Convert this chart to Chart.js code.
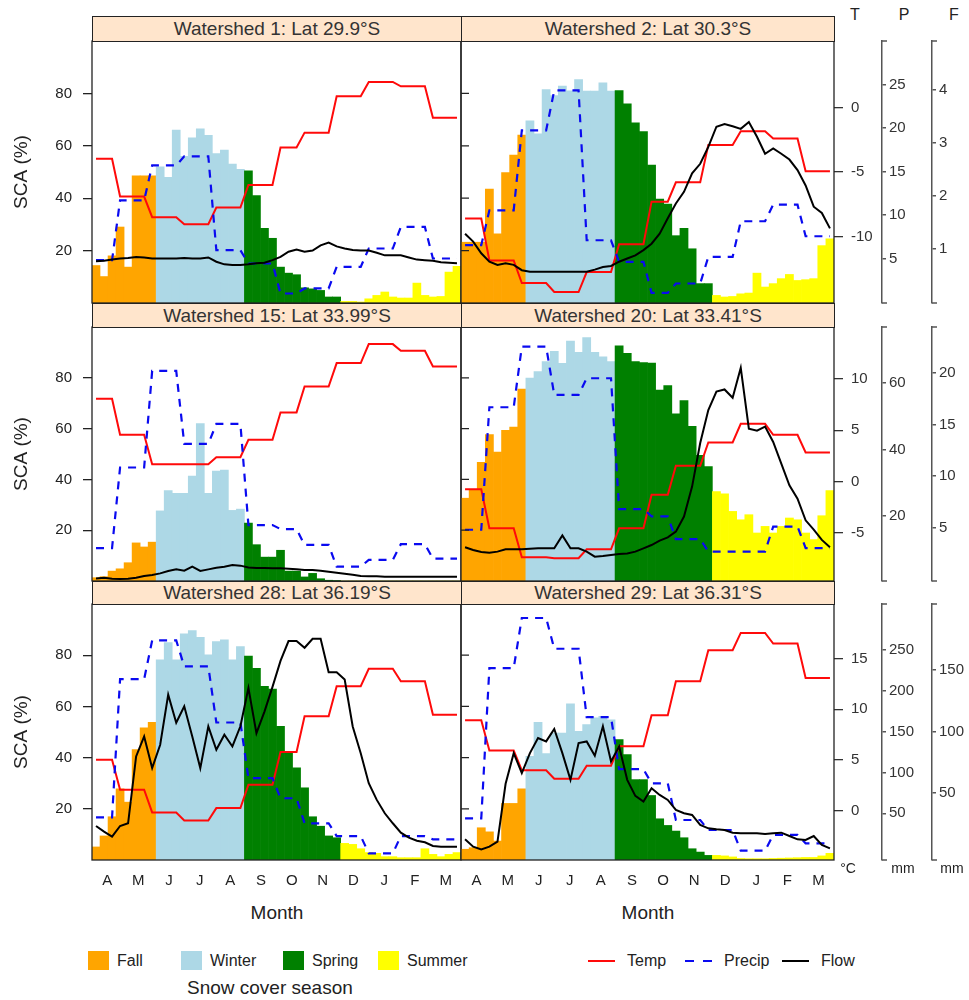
<!DOCTYPE html>
<html>
<head>
<meta charset="utf-8">
<title>Snow cover, temperature, precipitation and flow by watershed</title>
<script src="https://cdn.jsdelivr.net/npm/chart.js@4.4.1/dist/chart.umd.min.js"></script>
<style>
  body { margin: 0; background: #fff; }
  #page { position: relative; width: 969px; height: 1000px; overflow: hidden;
          font-family: "Liberation Sans", Arial, sans-serif; color: #222; }
  #page canvas { position: absolute; }
  .strip { position: absolute; box-sizing: border-box; background: #ffe5cc;
           border: 1px solid #222; font-size: 19px; text-align: center; color: #333; }
  .txt { position: absolute; white-space: nowrap; transform: translateY(-50%); }
  .mid { transform: translate(-50%, -50%); }
  .box { position: absolute; }
</style>
</head>
<body>
<div id="page"></div>
<script>
// month initials along the water year (April - March)
const monthLabels = ['A', 'M', 'J', 'J', 'A', 'S', 'O', 'N', 'D', 'J', 'F', 'M'];
// month (0 = April) of each of the 46 8-day composites
const compMonth = [0,0,0, 1,1,1,1, 2,2,2,2, 3,3,3,3, 4,4,4,4, 5,5,5,5, 6,6,6,
                   7,7,7,7, 8,8,8,8, 9,9,9,9, 10,10,10,10, 11,11,11,11];
// snow cover seasons and how many composites fall in each
const seasonNames = ['Fall', 'Winter', 'Spring', 'Summer'];
const seasonComposites = [8, 11, 12, 15];
const seasonColors = ['#ffa500', '#add8e6', '#008000', '#ffff00'];

const scaTicks = [20, 40, 60, 80];
// right hand axes (T, P, F), one set per row of panels
const tempRange = [[-15.15, 5.15], [-9.7, 15.07], [-4.9, 20.4]];
const precipRange = [[-0.1, 30], [0.5, 76.8], [-7.1, 305.9]];
const flowRange = [[-0.03, 4.92], [-0.19, 24.46], [-4, 203]];
const tempTicks = [[-10, -5, 0], [-5, 0, 5, 10], [0, 5, 10, 15]];
const precipTicks = [[5, 10, 15, 20, 25], [20, 40, 60], [50, 100, 150, 200, 250]];
const flowTicks = [[1, 2, 3, 4], [5, 10, 15, 20], [50, 100, 150]];

// snow covered area (%) per composite
const sca1 = [14.3,10.1,18,29,13.7,48.5,48.5,48.5, 52,48,66,56,63,66.5,64,57,58.4,53,51,
              50.4,41,28.5,24.7,13.7,11.4,10.8,5.8,5.4,4.8,2.3,2.3,
              0.6,0.6,0.4,1.6,2.9,4.2,2.3,1.9,1.9,7.6,2.9,2.3,2.5,11.8,14];
const sca2 = [23.2,23.2,23.2,43.5,26.4,49.8,56.5,64.1, 69.5,64.6,81.5,79.2,82.8,81,85.3,80.9,80.9,84,80.9,
              81.1,76,68.8,65.4,52.6,39.7,37.8,25.7,28.5,20.7,7.4,7.4,
              2.9,2.3,2.5,3.5,3.8,11.4,6.1,7.4,9.3,10.9,8.6,8.9,9.3,21.9,24.5];
const sca15 = [1.3,1.7,3.9,4.8,7.2,15,13.4,15.3, 27.6,35.6,34.5,34.5,41.3,62,34.5,43.3,43.7,27.8,28.3,
               22.8,14.3,9.4,9.4,12.1,3.9,3.9,1.6,3.0,0.9,0.3,0.2,
               0,0,0,0,0,0,0,0,0,0,0,0,0,0,0];
const sca20 = [32.6,35.9,46.7,57.6,50.8,59.3,60.6,75.6, 79.9,82.4,86.4,90.4,85.7,94.5,90,95.8,90,88.3,86.4,
               92.6,89.6,86.4,86,85.8,75.2,76.9,65.8,71,60.9,49.5,45,
               35.2,34.3,27.4,24.1,26.1,18.9,21.5,18.9,21.5,24.8,24.1,18.9,16.3,25.7,35.6];
const sca28 = [5.1,9.4,16.9,27.8,22.6,43.1,51.6,53.8, 78.2,84.9,78.2,88.3,89.6,87,80.1,85.3,86,78.2,83.4,
               79.7,74.9,67.8,66.8,52.2,42.1,36,28.2,16.9,13.2,9.4,8.7,
               6.5,6.1,4.4,2.9,2.6,1.3,1.3,0.9,0.9,0.9,4.4,2.2,1.3,2.2,2.9];
const sca29 = [4.2,4.8,12.6,11,7.4,22.1,22.1,27.8, 40.5,53.8,41.6,49.6,49.6,61,50.3,52.9,55.5,56.1,54.8,
               47,41.2,31.4,31.4,25.2,16.1,13.5,11.3,8.7,4.4,3.1,1.8,
               1.8,1.6,1.2,0.6,0.5,0.5,0.5,0.6,0.7,0.8,0.9,1.0,1.0,1.6,2.6];

// monthly mean temperature (°C), April - March
const temp1 = [-3.97,-6.9,-8.5,-9.05,-7.75,-6.0,-3.1,-1.95,0.87,1.98,1.64,-0.79];
const temp2 = [-8.6,-11.85,-13.6,-14.3,-12.75,-10.6,-7.3,-5.8,-2.9,-1.85,-2.4,-4.95];
const temp15 = [8.07,4.56,1.69,1.69,2.38,4.07,6.74,9.27,11.55,13.4,12.76,11.23];
const temp20 = [-0.75,-4.56,-7.39,-7.48,-6.61,-4.56,-1.3,1.53,3.81,5.63,4.56,2.83];
const temp28 = [5.01,2.04,-0.2,-0.99,0.23,2.54,5.77,9.3,12.27,14.0,12.76,9.46];
const temp29 = [8.9,5.93,3.96,3.13,4.42,6.33,9.4,12.76,15.83,17.54,16.49,13.09];

// monthly precipitation (mm), April - March
const precip1 = [4.82,11.7,15.7,16.75,5.97,4.44,0.99,1.57,4.05,6.16,8.64,5.01];
const precip2 = [6.54,10.55,19.73,24.32,7.11,4.63,1.07,2.14,5.2,9.29,11.2,7.57];
const precip15 = [10.4,34.6,63.6,41.7,47.7,17.3,16.1,11.35,4.8,6.85,11.55,7.2];
const precip20 = [15.9,52.7,70.9,56.4,61.4,22.1,19.9,13.1,9.35,9.35,16.85,10.4];
const precip28 = [45.1,214,261.4,229.6,161,92.9,68.4,37.8,22.2,1.0,22.2,18.2];
const precip29 = [43.9,227.6,288.8,251.2,167.6,103.9,86.7,41.8,29.6,4.3,23.5,13.3];

// streamflow per composite
const flow1 = [0.76,0.77,0.79,0.81,0.82,0.84,0.83,0.81,0.81,0.81, 0.81,0.82,0.81,0.81,0.83,0.75,0.70,0.69,0.69,0.70,
               0.72,0.73,0.78,0.84,0.94,0.98,0.94,0.96,1.06,1.11, 1.04,1.00,0.97,0.96,0.96,0.92,0.87,0.87,0.87,0.83,
               0.79,0.78,0.77,0.74,0.73,0.72];
const flow2 = [1.28,1.13,0.91,0.75,0.69,0.72,0.69,0.59,0.56,0.56, 0.56,0.56,0.56,0.56,0.56,0.56,0.60,0.65,0.67,0.75,
               0.81,0.87,0.97,1.09,1.28,1.57,1.85,2.07,2.42,2.60, 2.92,3.30,3.35,3.31,3.26,3.39,3.11,2.79,2.89,2.79,
               2.68,2.48,2.19,1.79,1.67,1.38];
const flow15 = [0.06,0.13,0.03,0.00,0.03,0.13,0.29,0.39,0.55,0.78, 0.94,0.81,1.20,0.78,0.94,1.10,1.20,1.36,1.30,1.13,
                1.07,1.07,1.04,1.04,1.00,0.94,0.87,0.87,0.81,0.71, 0.62,0.52,0.42,0.29,0.26,0.26,0.23,0.23,0.23,0.23,
                0.23,0.23,0.23,0.23,0.23,0.23];
const flow20 = [3.08,2.82,2.62,2.56,2.66,2.88,2.88,2.88,2.95,2.98, 2.98,2.98,4.24,2.98,2.98,2.66,2.17,2.24,2.33,2.43,
                2.49,2.66,2.98,3.30,3.73,4.05,4.60,6.06,8.97,13.2, 16.4,18.2,18.4,17.6,20.5,14.6,14.4,14.8,13.3,11.2,
                9.1,7.8,5.7,4.8,3.8,3.08];
const flow28 = [23.5,18.9,14.9,23.5,25.7,79.7,95.9,70.3,89.2,129.7, 107,120.3,95.9,70.3,104.1,85.1,97.3,87.8,104.1,135,
                98.6,116,136,157,173,173,167.6,174.9,174.9,147.8, 147.8,141.9,104,82.4,58.1,44.6,33.8,25.7,18.1,14.1,
                11.6,10.3,7.3,6.8,6.8,6.8];
const flow29 = [12.7,6.8,4.6,6.8,10.8,57.6,82.4,66.2,82.4,94.6, 91.9,101.9,82.4,60.8,90.5,91.9,80.3,104.1,75.7,87.8,
                60.8,47.8,43.2,54.1,48.6,44.6,36.5,33.8,32.4,24.3, 21.6,20.8,20.3,18.1,17.6,17.6,17.6,17.0,17.6,18.1,
                15.4,12.7,12.2,15.4,8.1,5.4];

const panels = [
  { title: 'Watershed 1: Lat 29.9°S', sca: sca1, temp: temp1, precip: precip1, flow: flow1 },
  { title: 'Watershed 2: Lat 30.3°S', sca: sca2, temp: temp2, precip: precip2, flow: flow2 },
  { title: 'Watershed 15: Lat 33.99°S', sca: sca15, temp: temp15, precip: precip15, flow: flow15 },
  { title: 'Watershed 20: Lat 33.41°S', sca: sca20, temp: temp20, precip: precip20, flow: flow20 },
  { title: 'Watershed 28: Lat 36.19°S', sca: sca28, temp: temp28, precip: precip28, flow: flow28 },
  { title: 'Watershed 29: Lat 36.31°S', sca: sca29, temp: temp29, precip: precip29, flow: flow29 }
];

const compSeason = [];
seasonComposites.forEach((n, s) => { for (let k = 0; k < n; k++) compSeason.push(s); });
const nComp = compMonth.length;

Chart.defaults.font.family = '"Liberation Sans", Arial, sans-serif';
Chart.defaults.color = '#222';

const page = document.getElementById('page');

const stripTop = [16, 303, 581];
const plotTop = [41, 327, 604];
const plotBottom = [303, 581, 860];

function addText(str, x, y, size, centered) {
  const d = document.createElement('div');
  d.className = centered ? 'txt mid' : 'txt';
  d.style.left = x + 'px';
  d.style.top = y + 'px';
  d.style.fontSize = size + 'px';
  d.textContent = str;
  page.appendChild(d);
  return d;
}

// fixed box sizes for the axes; hidden axes take no room
function fixWidth(w) {
  return s => { s.width = s.options.display ? w : 0; s.paddingTop = 0; s.paddingBottom = 0; };
}
function fixHeight(h) {
  return s => { s.height = s.options.display ? h : 0; s.paddingLeft = 0; s.paddingRight = 0; };
}

// panel border, inner SCA ticks on the right column, bracket ends on P and F axes
const panelFrame = {
  id: 'panelFrame',
  afterDatasetsDraw(chart, args, opts) {
    const { ctx, chartArea: a } = chart;
    ctx.save();
    ctx.strokeStyle = '#222';
    ctx.lineWidth = 1.3;
    ctx.strokeRect(a.left, a.top, a.right - a.left, a.bottom - a.top);
    if (opts.innerTicks) {
      const ys = chart.scales.y;
      ctx.beginPath();
      scaTicks.forEach(v => {
        const py = ys.getPixelForValue(v);
        ctx.moveTo(a.left, py);
        ctx.lineTo(a.left + 8, py);
      });
      ctx.stroke();
    }
    ['P', 'F'].forEach(id => {
      const s = chart.scales[id];
      if (!s || !s.options.display) return;
      ctx.strokeStyle = '#555';
      ctx.lineWidth = 1.5;
      ctx.beginPath();
      ctx.moveTo(s.left, a.top); ctx.lineTo(s.left + 5, a.top);
      ctx.moveTo(s.left, a.bottom); ctx.lineTo(s.left + 5, a.bottom);
      ctx.stroke();
    });
    ctx.restore();
  }
};

function sideAxis(show, weight, range, ticks, width, opts) {
  return {
    type: 'linear', position: 'right', weight: weight, display: show, bounds: 'data',
    min: range[0], max: range[1],
    grid: { drawOnChartArea: false, drawTicks: true, tickLength: opts.tickLength, color: opts.color, lineWidth: opts.lineWidth },
    border: opts.border,
    ticks: { padding: opts.padding, font: { size: 15 }, color: '#333' },
    afterBuildTicks: s => { s.ticks = ticks.map(v => ({ value: v })); },
    afterFit: fixWidth(width)
  };
}

panels.forEach((p, i) => {
  const row = Math.floor(i / 2);
  const right = i % 2 === 1;
  const last = row === 2;
  const left = right ? 460 : 0;
  const width = right ? 509 : 462;
  const top = plotTop[row] - 2;
  const height = plotBottom[row] - plotTop[row] + (last ? 42 : 4);

  const cv = document.createElement('canvas');
  cv.width = width;
  cv.height = height;
  cv.style.left = left + 'px';
  cv.style.top = top + 'px';
  cv.style.width = width + 'px';
  cv.style.height = height + 'px';
  page.appendChild(cv);

  const xs = (arr) => arr.map((v, k) => ({ x: k + 0.5, y: v }));

  new Chart(cv, {
    type: 'bar',
    data: {
      datasets: [
        {
          type: 'line', label: 'Flow', data: xs(p.flow), yAxisID: 'F', order: 1,
          borderColor: '#000000', borderWidth: 2, pointRadius: 0, tension: 0, fill: false
        },
        {
          type: 'line', label: 'Precip', data: xs(compMonth.map(m => p.precip[m])), yAxisID: 'P', order: 2,
          borderColor: '#0a0af0', borderWidth: 2.2, borderDash: [8, 7], pointRadius: 0, tension: 0, fill: false
        },
        {
          type: 'line', label: 'Temp', data: xs(compMonth.map(m => p.temp[m])), yAxisID: 'T', order: 3,
          borderColor: '#ff0a0a', borderWidth: 2, pointRadius: 0, tension: 0, fill: false
        },
        {
          type: 'bar', label: 'SCA', data: xs(p.sca), yAxisID: 'y', order: 4,
          backgroundColor: compSeason.map(s => seasonColors[s]),
          borderWidth: 0, barPercentage: 1, categoryPercentage: 1
        }
      ]
    },
    options: {
      responsive: false,
      animation: false,
      devicePixelRatio: 1,
      events: [],
      layout: { padding: { top: 2, bottom: last ? 0 : 2, left: right ? 1 : 0, right: right ? 0 : 1 } },
      plugins: {
        legend: { display: false },
        tooltip: { enabled: false },
        panelFrame: { innerTicks: right }
      },
      scales: {
        x: {
          type: 'linear', min: 0, max: nComp, offset: false, bounds: 'data', display: last,
          grid: { display: false, drawTicks: false, offset: false },
          border: { display: false },
          ticks: { autoSkip: false, maxRotation: 0, padding: 12, font: { size: 15 }, color: '#222',
                   callback: (v, k) => monthLabels[k] },
          afterBuildTicks: s => { s.ticks = monthLabels.map((m, k) => ({ value: (k + 0.5) * nComp / 12 })); },
          afterFit: fixHeight(40)
        },
        y: {
          type: 'linear', position: 'left', min: 0, max: 100, bounds: 'data', display: !right,
          grid: { drawOnChartArea: false, drawTicks: true, tickLength: 9, color: '#222', lineWidth: 1.3 },
          border: { display: false },
          ticks: { padding: 11, font: { size: 15 }, color: '#222' },
          title: { display: true, text: 'SCA (%)', font: { size: 19 }, color: '#222', padding: { top: 10, bottom: 0 } },
          afterBuildTicks: s => { s.ticks = scaTicks.map(v => ({ value: v })); },
          afterFit: fixWidth(92)
        },
        T: sideAxis(right, 1, tempRange[row], tempTicks[row], 48,
                    { tickLength: 9, color: '#333', lineWidth: 1.3, padding: 8, border: { display: false } }),
        P: sideAxis(right, 2, precipRange[row], precipTicks[row], 50,
                    { tickLength: 4, color: '#555', lineWidth: 1.5, padding: 3, border: { display: true, color: '#555', width: 1.5 } }),
        F: sideAxis(right, 3, flowRange[row], flowTicks[row], 37,
                    { tickLength: 4, color: '#555', lineWidth: 1.5, padding: 3, border: { display: true, color: '#555', width: 1.5 } })
      }
    },
    plugins: [panelFrame]
  });
});

// strip headers
panels.forEach((p, i) => {
  const row = Math.floor(i / 2);
  const right = i % 2 === 1;
  const d = document.createElement('div');
  d.className = 'strip';
  const h = plotTop[row] - stripTop[row] + 1;
  d.style.left = (right ? 461 : 92) + 'px';
  d.style.width = (right ? 374 : 370) + 'px';
  d.style.top = stripTop[row] + 'px';
  d.style.height = h + 'px';
  d.style.lineHeight = (h - 2) + 'px';
  d.textContent = p.title;
  page.appendChild(d);
});

// axis names and units of the right hand axes
[['T', 855], ['P', 904], ['F', 954]].forEach(([t, x]) => addText(t, x, 15, 16, true));
[['°C', 848], ['mm', 903], ['mm', 952]].forEach(([t, x]) => addText(t, x, 868, 14, true));

addText('Month', 277, 913, 19, true);
addText('Month', 648, 913, 19, true);

// season key
const swatchX = [88, 181, 283, 378];
seasonNames.forEach((name, s) => {
  const b = document.createElement('div');
  b.className = 'box';
  b.style.cssText = `left:${swatchX[s]}px;top:951px;width:21px;height:19px;background:${seasonColors[s]}`;
  page.appendChild(b);
  addText(name, swatchX[s] + 29, 961, 16);
});
addText('Snow cover season', 187, 988, 19);

// line key
const lineKeys = [
  { name: 'Temp', x: 588, bg: '#ff0a0a' },
  { name: 'Precip', x: 685, bg: 'repeating-linear-gradient(90deg, #0a0af0 0 9px, transparent 9px 18px)' },
  { name: 'Flow', x: 782, bg: '#000' }
];
lineKeys.forEach(k => {
  const b = document.createElement('div');
  b.className = 'box';
  b.style.cssText = `left:${k.x}px;top:960px;width:27px;height:2px;background:${k.bg}`;
  page.appendChild(b);
  addText(k.name, k.x + 39, 961, 16);
});
</script>
</body>
</html>
